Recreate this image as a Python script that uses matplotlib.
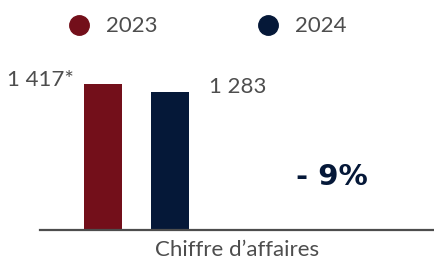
import matplotlib.pyplot as plt
from matplotlib.lines import Line2D

annees = ["2023", "2024"]
valeurs = [1417, 1283]
etiquettes = ["1 417*", "1 283"]
categorie = "Chiffre d\u2019affaires"
variation = "- 9%"
couleurs = ["#730F1A", "#051838"]
gris = "#4d4d4d"

plt.rcParams['font.family'] = ['Lato', 'DejaVu Sans']

fig = plt.figure(figsize=(4.34, 2.64), dpi=100)
ax = fig.add_axes([40/434, 34/264, 394/434, 190/264])

base = -1030  # l'axe ne commence pas a zero dans l'original
decal = [-0.34, -0.17]
larg = 0.0964
for i in range(2):
    ax.bar(decal[i], valeurs[i] - base, width=larg, bottom=base,
           color=couleurs[i])

ax.set_xlim(-0.5, 0.5)
haut = base + (valeurs[0] - base) * 190 / 146
ax.set_ylim(base, haut)

ax.text(decal[0] - larg/2 - 0.025, valeurs[0] + 70, etiquettes[0],
        ha='right', va='center', fontsize=16, color=gris)
ax.text(decal[1] + larg/2 + 0.05, valeurs[1] + 90, etiquettes[1],
        ha='left', va='center', fontsize=16, color=gris)

ax.text(0.742, 0.28, variation, transform=ax.transAxes, ha='center',
        va='center', fontsize=21, fontweight='heavy', color=couleurs[1],
        family=['DejaVu Sans'])

for s in ['top', 'right', 'left']:
    ax.spines[s].set_visible(False)
ax.spines['bottom'].set_color(gris)
ax.spines['bottom'].set_linewidth(1.6)
ax.set_yticks([])
ax.set_xticks([0])
ax.set_xticklabels([categorie], fontsize=16, color=gris)
ax.tick_params(axis='x', length=0, pad=7)

poignees = [Line2D([], [], marker='o', linestyle='', markersize=14,
                   color=c) for c in couleurs]
fig.legend(poignees, annees, loc='center', bbox_to_anchor=(0.465, 0.9),
           ncol=2, frameon=False, fontsize=16, labelcolor=gris,
           handletextpad=0.2, columnspacing=4.0)

fig.savefig("out.png", dpi=100)
